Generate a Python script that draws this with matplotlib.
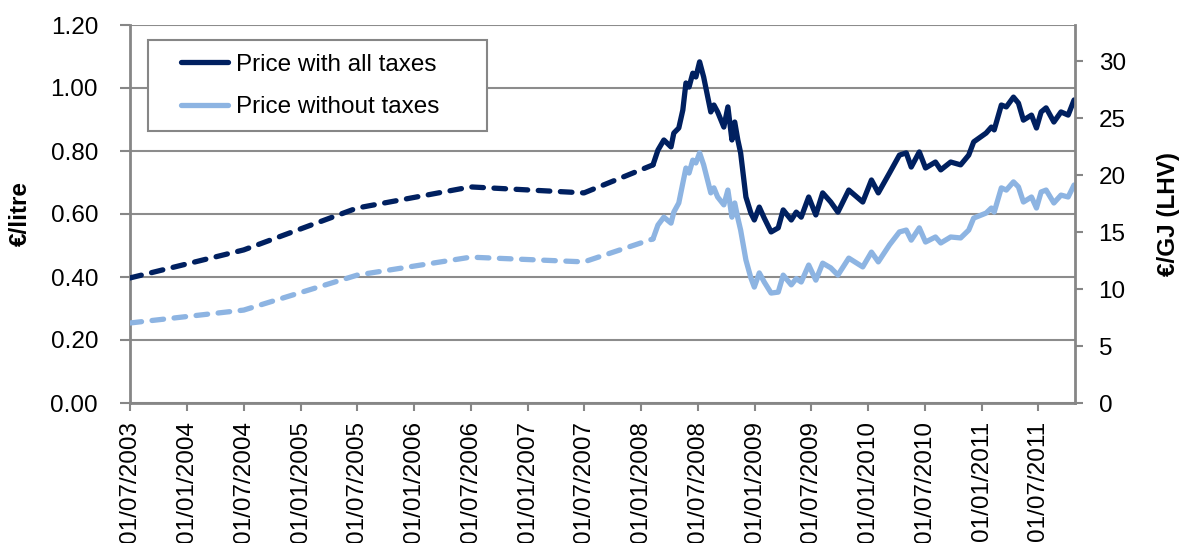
import numpy as np
import pandas as pd
import matplotlib
matplotlib.use('Agg')
import matplotlib.pyplot as plt
import matplotlib.dates as mdates
from matplotlib.patches import Rectangle

plt.rcParams['font.family'] = ['Liberation Sans', 'DejaVu Sans']

# yearly averages (dashed part, before weekly data is available)
yearly_dates = ["2003-07-01", "2004-07-01", "2005-07-01", "2006-07-01",
                "2007-07-01", "2008-02-08"]
yearly_with_tax = [0.397, 0.486, 0.619, 0.686, 0.667, 0.756]
yearly_no_tax = [0.254, 0.295, 0.406, 0.463, 0.448, 0.521]

# weekly prices (solid part)
weekly_dates = [
    "2008-02-08", "2008-02-24", "2008-03-14", "2008-04-06", "2008-04-15",
    "2008-05-01", "2008-05-14", "2008-05-24", "2008-06-03", "2008-06-15",
    "2008-06-25", "2008-07-07", "2008-07-20", "2008-08-12", "2008-08-22",
    "2008-09-03", "2008-09-23", "2008-10-06", "2008-10-19", "2008-10-28",
    "2008-11-07", "2008-11-16", "2008-12-03", "2008-12-19", "2008-12-30",
    "2009-01-15", "2009-01-31", "2009-02-22", "2009-03-17", "2009-04-02",
    "2009-04-28", "2009-05-14", "2009-05-30", "2009-06-23", "2009-07-16",
    "2009-08-07", "2009-09-02", "2009-09-25", "2009-10-30", "2009-12-14",
    "2010-01-11", "2010-02-02", "2010-03-10", "2010-04-11", "2010-05-03",
    "2010-05-19", "2010-06-14", "2010-07-04", "2010-08-05", "2010-08-22",
    "2010-09-23", "2010-10-25", "2010-11-20", "2010-12-06", "2011-01-15",
    "2011-02-01", "2011-02-10", "2011-03-05", "2011-03-21", "2011-04-13",
    "2011-04-29", "2011-05-15", "2011-06-10", "2011-06-26", "2011-07-11",
    "2011-07-27", "2011-08-21", "2011-09-13", "2011-10-06", "2011-10-25",
]
weekly_with_tax = [
    0.756, 0.803, 0.835, 0.813, 0.857,
    0.873, 0.930, 1.016, 1.003, 1.047,
    1.035, 1.083, 1.035, 0.924, 0.946,
    0.924, 0.876, 0.940, 0.835, 0.892,
    0.835, 0.794, 0.654, 0.603, 0.581,
    0.622, 0.587, 0.543, 0.556, 0.613,
    0.581, 0.606, 0.590, 0.654, 0.597,
    0.667, 0.638, 0.606, 0.676, 0.638,
    0.708, 0.667, 0.730, 0.787, 0.794,
    0.749, 0.797, 0.746, 0.765, 0.740,
    0.765, 0.756, 0.787, 0.829, 0.857,
    0.876, 0.867, 0.946, 0.940, 0.971,
    0.952, 0.898, 0.914, 0.873, 0.924,
    0.937, 0.892, 0.924, 0.914, 0.962,
]
weekly_no_tax = [
    0.521, 0.565, 0.590, 0.571, 0.606,
    0.635, 0.698, 0.746, 0.730, 0.771,
    0.762, 0.794, 0.756, 0.667, 0.683,
    0.654, 0.629, 0.676, 0.590, 0.635,
    0.587, 0.549, 0.454, 0.397, 0.368,
    0.413, 0.384, 0.349, 0.352, 0.406,
    0.375, 0.395, 0.384, 0.438, 0.390,
    0.444, 0.429, 0.406, 0.460, 0.432,
    0.479, 0.448, 0.502, 0.543, 0.549,
    0.517, 0.556, 0.511, 0.527, 0.508,
    0.527, 0.524, 0.549, 0.587, 0.603,
    0.619, 0.606, 0.683, 0.676, 0.702,
    0.686, 0.638, 0.654, 0.619, 0.670,
    0.676, 0.635, 0.660, 0.654, 0.692,
]

tick_dates = pd.date_range("2003-07-01", "2011-07-01", freq="6MS")
gj_ticks = [0, 5, 10, 15, 20, 25, 30]

DARK = '#002060'
LIGHT = '#8DB4E2'
GREY = '#868686'
FS = 17.5

W, H = 1185, 543
fig = plt.figure(figsize=(W / 100, H / 100), dpi=100)
ax = fig.add_axes([130 / W, 1 - 403 / H, 945 / W, 378 / H])

yd = pd.to_datetime(yearly_dates)
wd = pd.to_datetime(weekly_dates)

LW = 3.8
dash = (0, (2.2, 2.0))
ax.plot(yd, yearly_no_tax, color=LIGHT, lw=LW, ls=dash, dash_capstyle='round', zorder=3)
ax.plot(yd, yearly_with_tax, color=DARK, lw=LW, ls=dash, dash_capstyle='round', zorder=4)
l2, = ax.plot(wd, weekly_no_tax, color=LIGHT, lw=LW, solid_joinstyle='round',
              solid_capstyle='round', zorder=3)
l1, = ax.plot(wd, weekly_with_tax, color=DARK, lw=LW, solid_joinstyle='round',
              solid_capstyle='round', zorder=4)

ax.set_xlim(pd.Timestamp("2003-07-01"), pd.Timestamp("2011-10-28"))
ax.set_ylim(0, 1.2)
ax.set_yticks(np.arange(0, 1.21, 0.2))
ax.yaxis.set_major_formatter(matplotlib.ticker.FormatStrFormatter('%.2f'))
ax.set_xticks(tick_dates)
ax.xaxis.set_major_formatter(mdates.DateFormatter('%d/%m/%Y'))
ax.tick_params(axis='x', labelrotation=90, labelsize=FS, length=6, width=1.5,
               color=GREY, pad=7)
ax.tick_params(axis='y', labelsize=FS, length=7, width=1.5, color=GREY, pad=16)
ax.grid(axis='y', color='#8c8c8c', lw=1.5)
ax.set_axisbelow(True)
for s in ['top', 'right']:
    ax.spines[s].set_visible(False)
for s in ['left', 'bottom']:
    ax.spines[s].set_color(GREY)
    ax.spines[s].set_linewidth(2)

ax2 = ax.twinx()
ax2.set_ylim(0, 33.2)
ax2.set_yticks(gj_ticks)
ax2.tick_params(axis='y', labelsize=FS, length=6, width=1.5, color=GREY, pad=11)
for s in ['top', 'left', 'bottom']:
    ax2.spines[s].set_visible(False)
ax2.spines['right'].set_color(GREY)
ax2.spines['right'].set_linewidth(2)

# axis titles
fig.text(20 / W, 1 - 214 / H, '€/litre', fontsize=FS, fontweight='bold',
         rotation=90, ha='center', va='center')
fig.text(1168 / W, 1 - 214 / H, '€/GJ (LHV)', fontsize=FS, fontweight='bold',
         rotation=90, ha='center', va='center')

# legend box
fig.patches.append(Rectangle((148 / W, 1 - 131 / H), 339 / W, 91 / H,
                             transform=fig.transFigure, facecolor='white',
                             edgecolor=GREY, lw=1.5, zorder=5))
leg = fig.legend([l1, l2], ['Price with all taxes', 'Price without taxes'],
                 loc='center left', bbox_to_anchor=(181 / W, 1 - 86 / H),
                 frameon=False, fontsize=FS, borderpad=0, borderaxespad=0,
                 handlelength=1.95, handletextpad=0.3, labelspacing=0.85)
leg.set_zorder(6)

fig.savefig('out.png', dpi=100)
